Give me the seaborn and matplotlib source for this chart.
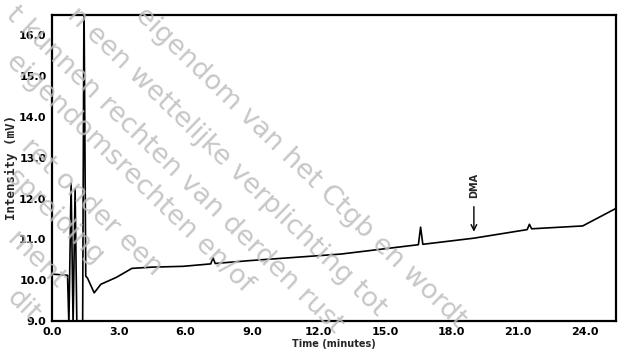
import matplotlib
matplotlib.use("Agg")
import matplotlib.pyplot as plt
from matplotlib.ticker import MultipleLocator, FormatStrFormatter
import seaborn as sns
import pandas as pd

# ---- data ----
time_min = [0.0, 0.7, 0.76, 0.86, 0.95, 1.04, 1.12, 1.38, 1.44, 1.52, 1.6,
            1.9, 2.2, 2.9, 3.6, 4.5, 5.9, 7.15, 7.25, 7.35, 8.9, 13.0,
            16.5, 16.6, 16.7, 19.0, 21.4, 21.5, 21.6, 23.9, 25.4]
intensity_mv = [10.15, 10.12, 8.9, 12.38, 8.9, 12.24, 8.9, 8.9, 17.0, 10.1, 10.05,
                9.69, 9.9, 10.07, 10.29, 10.32, 10.34, 10.4, 10.55, 10.41, 10.48, 10.64,
                10.87, 11.3, 10.88, 11.03, 11.24, 11.37, 11.26, 11.33, 11.76]
x_ticks = [0, 3, 6, 9, 12, 15, 18, 21, 24]
y_ticks = [9, 10, 11, 12, 13, 14, 15, 16]
dma_time = 19.0
dma_level = 11.12

watermark_texts = [
    "eigendom van het Ctgb en wordt",
    "n een wettelijke verplichting tot",
    "t kunnen rechten van derden rust",
    "eigendomsrechten en/of",
    "ret onder een regeling",
    "spreiding vermenigvuldiging",
    "ment",
    "dit document",
]
watermark_starts = [(148, 2), (80, 2), (17, 2), (13, 48), (34, 134), (0, 164), (0, 227), (0, 285)]

df = pd.DataFrame({"Time (minutes)": time_min, "Intensity (mV)": intensity_mv})

sns.set_style("white")
plt.rcParams["font.family"] = ["DejaVu Sans"]

W, H = 622, 354
fig = plt.figure(figsize=(W / 100, H / 100), dpi=100)
ax = fig.add_axes([52 / W, 1 - 321 / H, (616 - 52) / W, (321 - 15) / H])

sns.lineplot(data=df, x="Time (minutes)", y="Intensity (mV)", ax=ax,
             color="black", linewidth=1.2, estimator=None, sort=False)

ax.set_xlim(0, 25.4)
ax.set_ylim(9.0, 16.5)
ax.set_xticks(x_ticks)
ax.set_yticks(y_ticks)
ax.xaxis.set_minor_locator(MultipleLocator(1))
ax.yaxis.set_minor_locator(MultipleLocator(0.2))
ax.xaxis.set_major_formatter(FormatStrFormatter("%.1f"))
ax.yaxis.set_major_formatter(FormatStrFormatter("%.1f"))
ax.tick_params(axis="both", which="major", direction="inout", length=6, width=1.3,
               labelsize=8, colors="black", pad=1)
ax.tick_params(axis="x", which="minor", direction="in", length=3, width=1.1)
ax.tick_params(axis="y", which="minor", direction="out", length=3, width=1.1)
for lab in ax.get_xticklabels() + ax.get_yticklabels():
    lab.set_fontweight("bold")

for s in ax.spines.values():
    s.set_visible(True)
    s.set_color("black")
    s.set_linewidth(1.6)

ax.set_xlabel("Time (minutes)", fontsize=7, fontweight="bold", labelpad=2)
ax.set_ylabel("Intensity (mV)", fontsize=9, fontweight="bold", labelpad=1,
              family="DejaVu Sans Mono")

ax.annotate("", xy=(dma_time, dma_level), xytext=(dma_time, dma_level + 0.75),
            arrowprops=dict(arrowstyle="->", color="black", lw=1.0))
ax.text(dma_time, dma_level + 1.2, "DMA", rotation=90, ha="center", va="center",
        fontsize=7, fontweight="bold")

# watermark overlay: keep whole words inside the picture
renderer = fig.canvas.get_renderer()
for txt, (px, py) in zip(watermark_texts, watermark_starts):
    words = txt.split()
    while words:
        t = fig.text(px / W, 1 - py / H, " ".join(words), rotation=-44,
                     rotation_mode="anchor", ha="left", va="top", fontsize=19.5,
                     color="#bdbdbd", alpha=0.85)
        bb = t.get_window_extent(renderer)
        if bb.x0 < 1:
            t.set_x((px + 1 - bb.x0) / W)
            bb = t.get_window_extent(renderer)
        if bb.y1 > H - 1:
            t.set_y(1 - (py + bb.y1 - H + 1) / H)
            bb = t.get_window_extent(renderer)
        if bb.y0 >= 0 and bb.x1 <= W:
            break
        t.remove()
        words = words[:-1]

fig.savefig("out.png", dpi=100)
